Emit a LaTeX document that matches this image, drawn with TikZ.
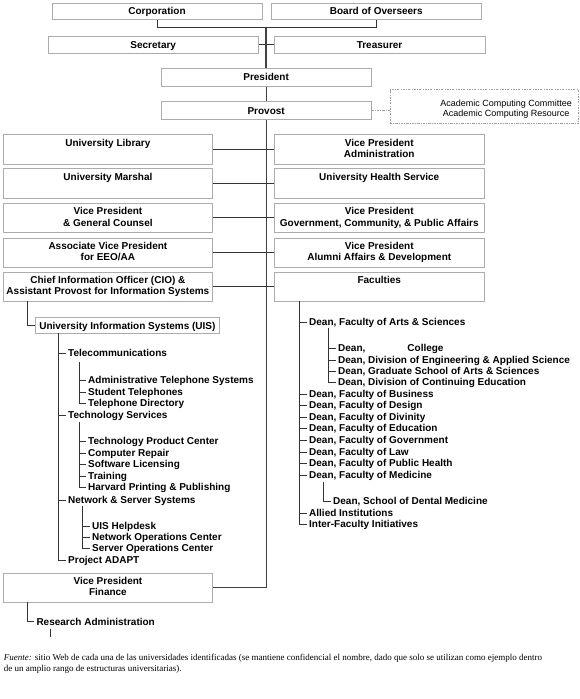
\documentclass[tikz,border=0pt]{standalone}
\usepackage{fontspec}
\setmainfont{Liberation Serif}
\newfontfamily\orgsans{Liberation Sans}
\newcommand{\orgfont}{\orgsans\bfseries\fontsize{10}{11.5}\selectfont}
\newcommand{\notefont}{\orgsans\fontsize{9}{10}\selectfont}
\newcommand{\srcfont}{\fontsize{9}{10.7}\selectfont}

\begin{document}
\begin{tikzpicture}[x=1pt, y=-1pt,
  topbox/.style={draw=gray!65, line width=0.8pt, fill=white, anchor=north west, inner sep=0pt,
    font=\orgfont, text height=7.2pt, text depth=0pt},
  unitbox/.style={draw=gray!65, line width=0.8pt, anchor=north west, inner xsep=0pt, inner ysep=4.1pt,
    minimum width=209.6pt, minimum height=29.5pt, align=center, font=\orgfont,
    text height=7.2pt, text depth=14.1pt},
  twoline/.style={text height=18.7pt, text depth=2.6pt},
  item/.style={anchor=west, inner xsep=2pt, inner ysep=0pt, font=\orgfont, text height=7.2pt, text depth=0pt},
  link/.style={draw=black!80, line width=1pt},
  trunk/.style={draw=black!75, line width=1.3pt},
  dotdash/.style={draw=gray!75, line width=0.8pt, dash pattern=on 2.2pt off 1.3pt on 0.7pt off 1.3pt}]
  \useasboundingbox (0,0) rectangle (580,699);

  % governing boards and officers
  \node[topbox, minimum width=209.8pt, minimum height=16.8pt] (corp) at (51.7,2.5) {Corporation};
  \node[topbox, minimum width=210.2pt, minimum height=16.8pt] (board) at (270.8,2.5) {Board of Overseers};
  \node[topbox, minimum width=210.7pt, minimum height=17.2pt] (secr) at (47.5,35.5) {Secretary};
  \node[topbox, minimum width=210.9pt, minimum height=17.2pt] (treas) at (273.7,35.5) {Treasurer};
  \node[topbox, minimum width=209.5pt, minimum height=18.6pt] (pres) at (161,67.5) {President};
  \node[topbox, minimum width=209.5pt, minimum height=18.6pt] (prov) at (161,100.7) {Provost};
  \node[dotdash, anchor=north west, minimum width=188.5pt, minimum height=34pt, inner sep=0pt] (acc) at (389.5,89.3) {};
  \node[anchor=north east, align=center, font=\notefont, inner sep=0pt] (acc-txt) at (572,99.3)
    {Academic Computing Committee\\Academic Computing Resource};

  \coordinate (top-join) at (266,27.3);
  \draw[link] (corp.south) |- (top-join) -| (board.south);
  \draw[link] (secr.east) -- (treas.west);
  \draw[trunk] (top-join) -- (top-join |- pres.north);
  \draw[trunk] (pres.south) -- (prov.north);
  \draw[dotdash] (prov.east) -- (prov.east -| acc.west);

  % units under the provost
  \node[unitbox] (lib) at (2.7,134.3) {University Library};
  \node[unitbox] (msh) at (2.7,168.4) {University Marshal};
  \node[unitbox, twoline] (gcn) at (2.7,202.8) {Vice President\\\& General Counsel};
  \node[unitbox, twoline] (eeo) at (2.7,237.5) {Associate Vice President\\for EEO/AA};
  \node[unitbox, twoline] (cio) at (2.7,271.7) {Chief Information Officer (CIO) \&\\Assistant Provost for Information Systems};
  \node[unitbox, twoline, minimum width=210.3pt] (adm) at (273.7,134.3) {Vice President\\Administration};
  \node[unitbox, minimum width=210.3pt] (hlt) at (273.7,168.4) {University Health Service};
  \node[unitbox, twoline, minimum width=210.3pt] (gov) at (273.7,202.8) {Vice President\\Government, Community, \& Public Affairs};
  \node[unitbox, twoline, minimum width=210.3pt] (alm) at (273.7,237.5) {Vice President\\Alumni Affairs \& Development};
  \node[unitbox, minimum width=210.3pt] (fac) at (273.7,271.7) {Faculties};
  \node[unitbox, twoline] (fin) at (2.7,572.5) {Vice President\\Finance};

  \foreach \a/\b in {lib/adm, msh/hlt, gcn/gov, eeo/alm, cio/fac}
    \draw[link] (\a.east) -- (\b.west);
  \draw[trunk] (prov.south) |- (fin.east);

  % information systems
  \node[topbox, minimum width=184pt, minimum height=16.6pt] (uis) at (35,316.7) {University Information Systems (UIS)};
  \coordinate (cio-v) at (27.3,301);
  \draw[link] (cio-v) |- (uis.west);

  \node[item] (tel) at (66,353) {Telecommunications};
  \node[item] (ats) at (86,380) {Administrative Telephone Systems};
  \node[item] (stt) at (86,392) {Student Telephones};
  \node[item] (tdr) at (86,403) {Telephone Directory};
  \node[item] (tec) at (66,415) {Technology Services};
  \node[item] (tpc) at (86,441) {Technology Product Center};
  \node[item] (crp) at (86,453) {Computer Repair};
  \node[item] (swl) at (86,464) {Software Licensing};
  \node[item] (trn) at (86,476) {Training};
  \node[item] (hpp) at (86,487) {Harvard Printing \& Publishing};
  \node[item] (nss) at (66,500) {Network \& Server Systems};
  \node[item] (uhd) at (90,526) {UIS Helpdesk};
  \node[item] (noc) at (90,537) {Network Operations Center};
  \node[item] (soc) at (90,548) {Server Operations Center};
  \node[item] (ada) at (66,560) {Project ADAPT};

  \coordinate (uis-v) at (58.5,333.3);
  \coordinate (tel-v) at (79,362);
  \coordinate (tec-v) at (79,422);
  \coordinate (nss-v) at (82,506);
  \foreach \n in {tel,tec,nss,ada} \draw[link] (uis-v) |- (\n.west);
  \foreach \n in {ats,stt,tdr} \draw[link] (tel-v) |- (\n.west);
  \foreach \n in {tpc,crp,swl,trn,hpp} \draw[link] (tec-v) |- (\n.west);
  \foreach \n in {uhd,noc,soc} \draw[link] (nss-v) |- (\n.west);

  % faculties
  \node[item] (fas) at (307,322) {Dean, Faculty of Arts \& Sciences};
  \node[item] (dcl) at (336,348) {Dean,\hspace{42pt}College};
  \node[item] (des) at (336,360) {Dean, Division of Engineering \& Applied Science};
  \node[item] (gsa) at (336,371) {Dean, Graduate School of Arts \& Sciences};
  \node[item] (dce) at (336,382) {Dean, Division of Continuing Education};
  \node[item] (bus) at (307,394) {Dean, Faculty of Business};
  \node[item] (dsg) at (307,405) {Dean, Faculty of Design};
  \node[item] (div) at (307,417) {Dean, Faculty of Divinity};
  \node[item] (edu) at (307,428) {Dean, Faculty of Education};
  \node[item] (gvt) at (307,440) {Dean, Faculty of Government};
  \node[item] (law) at (307,452) {Dean, Faculty of Law};
  \node[item] (pub) at (307,463) {Dean, Faculty of Public Health};
  \node[item] (med) at (307,475) {Dean, Faculty of Medicine};
  \node[item] (dnt) at (331,501) {Dean, School of Dental Medicine};
  \node[item] (ali) at (307,513) {Allied Institutions};
  \node[item] (ifi) at (307,524) {Inter-Faculty Initiatives};

  \coordinate (fac-v) at (299.5,301);
  \coordinate (fas-v) at (328,328);
  \coordinate (med-v) at (323,482);
  \foreach \n in {fas,bus,dsg,div,edu,gvt,law,pub,med,ali,ifi} \draw[link] (fac-v) |- (\n.west);
  \foreach \n in {dcl,des,gsa,dce} \draw[link] (fas-v) |- (\n.west);
  \draw[link] (med-v) |- (dnt.west);

  % finance
  \node[item] (rsa) at (34.3,621.7) {Research Administration};
  \coordinate (fin-v) at (27.8,602);
  \draw[link] (fin-v) |- (rsa.west);
  \draw[link] ([xshift=15.7pt,yshift=-3pt]rsa.south west) -- ++(0,8);

  % source note
  \node[anchor=north west, align=left, font=\srcfont, inner sep=0pt] (src) at (3.7,654)
    {\textit{Fuente:} sitio Web de cada una de las universidades identificadas (se mantiene confidencial el nombre, dado que solo se utilizan como ejemplo dentro\\de un amplio rango de estructuras universitarias).};
\end{tikzpicture}
\end{document}
